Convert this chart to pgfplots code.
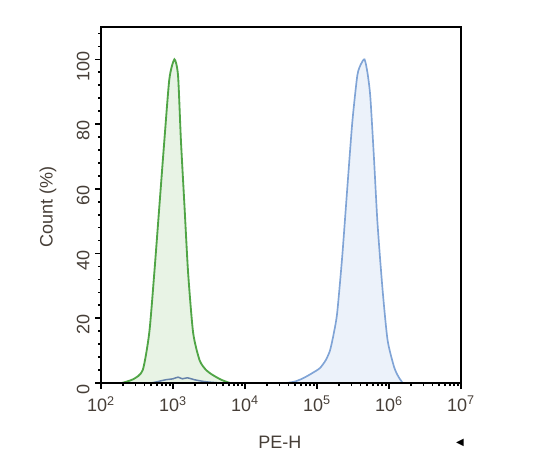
\documentclass[border=0pt]{standalone}
\usepackage{pgfplots}
\pgfplotsset{compat=1.18}
\usepackage{fontspec}
\setmainfont{Liberation Sans}
\newfontfamily\dejavu{DejaVu Sans}

\definecolor{txt}{RGB}{70,62,55}
\definecolor{gline}{RGB}{80,165,70}
\definecolor{gfill}{RGB}{232,243,229}
\definecolor{bline}{RGB}{128,164,214}
\definecolor{bfill}{RGB}{236,242,250}

\begin{document}
\begin{tikzpicture}
\path[use as bounding box] (0,0) rectangle (327pt,279pt);
\begin{axis}[
    at={(60.6pt,49.2pt)}, anchor=south west,
    scale only axis, width=216pt, height=213.6pt,
    xmode=log, xmin=1e2, xmax=1e7,
    ymin=0, ymax=110,
    xtick={1e2,1e3,1e4,1e5,1e6,1e7},
    xticklabels={10\textsuperscript{2},10\textsuperscript{3},10\textsuperscript{4},10\textsuperscript{5},10\textsuperscript{6},10\textsuperscript{7}},
    ytick={0,20,40,60,80,100},
    minor ytick={0,4,...,108},
    /pgf/number format/assume math mode=true,
    tick align=outside, tick pos=left,
    major tick length=3.4pt, minor tick length=1.8pt,
    every tick/.style={black, line width=1pt},
    axis line style={black, line width=1.6pt},
    font=\fontsize{10.8}{13}\selectfont,
    tick label style={text=txt},
    xticklabel style={yshift=-1pt},
    yticklabel style={rotate=90, anchor=south, xshift=-4pt},
    xlabel={PE-H}, ylabel={Count (\%)},
    xlabel style={at={(axis description cs:0.497,-0.166)}, anchor=center, text=txt},
    ylabel style={at={(axis description cs:-0.147,0.494)}, anchor=center, rotate=0, text=txt},
    clip=false,
]
% blue population
\addplot[draw=bline, line width=1pt, fill=bfill, smooth, tension=0.4] coordinates {
    (38019,0) (50119,0.5) (64565,1.5) (85114,3) (109648,4.6) (131826,7)
    (151356,10) (169824,15) (190546,21.6) (223872,39) (263027,60)
    (309030,80.5) (363078,95) (407380,98.5) (457088,100) (501187,96)
    (549541,88.6) (616595,70) (691831,49.5) (812831,29) (954993,13.3)
    (1174898,5) (1348963,2) (1548817,0)
} \closedcycle;
% green population
\addplot[draw=gline, line width=1.1pt, fill=gfill, smooth, tension=0.4] coordinates {
    (195,0) (282,1.2) (380,4) (468,15.5) (550,34) (646,54.5) (759,75)
    (891,94) (1047,100) (1175,95) (1288,75) (1445,54.5) (1622,34)
    (1905,15.5) (2344,7) (2884,4) (3548,2.5) (4677,1) (6166,0)
} \closedcycle;
% small blue hump under the green peak
\addplot[draw=bline!80!black, line width=0.9pt, smooth, tension=0.4] coordinates {
    (501,0) (631,0.5) (794,1.0) (1000,1.3) (1175,1.8) (1349,1.3)
    (1585,1.6) (1995,1.0) (2818,0.4) (4467,0)
};
% frame drawn on top
\draw[black, line width=1.6pt] (rel axis cs:0,0) rectangle (rel axis cs:1,1);
\node[anchor=center, inner sep=0pt, font=\dejavu\fontsize{6}{7}\selectfont]
    at (axis description cs:0.997,-0.169) {◀};
\end{axis}
\end{tikzpicture}
\end{document}
